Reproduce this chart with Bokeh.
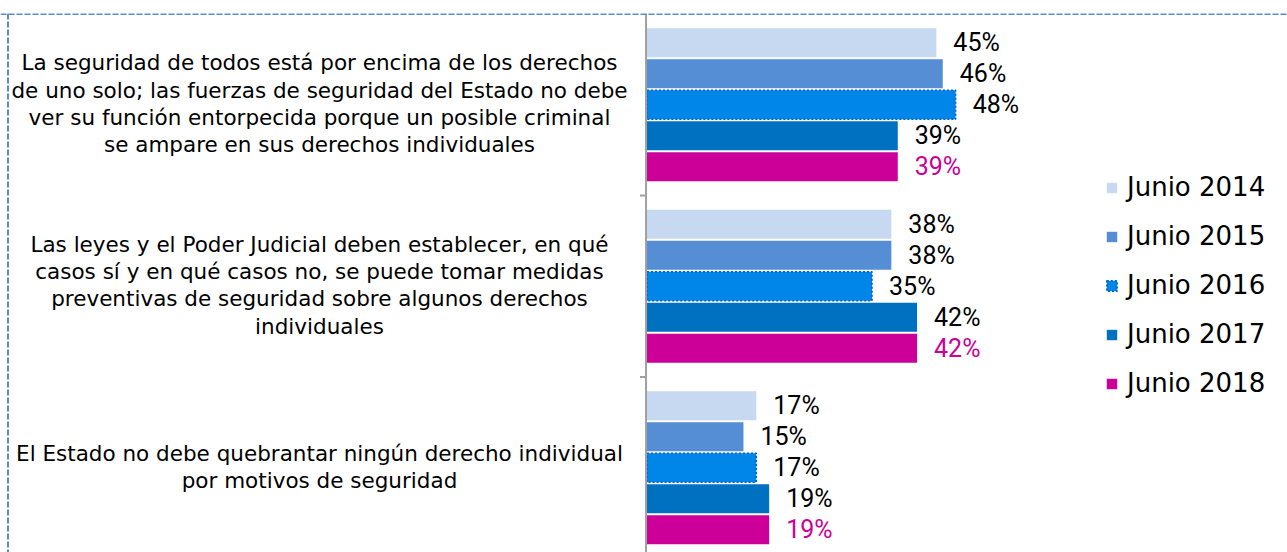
from bokeh.plotting import figure
from bokeh.models import Range1d, Span, Legend, LegendItem
from bokeh.core.properties import value
from bokeh.embed import file_html
from bokeh.resources import INLINE

# ---- data ----
categories = [
    "La seguridad de todos está por encima de los derechos\nde uno solo; las fuerzas de seguridad del Estado no debe\nver su función entorpecida porque un posible criminal\nse ampare en sus derechos individuales",
    "Las leyes y el Poder Judicial deben establecer, en qué\ncasos sí y en qué casos no, se puede tomar medidas\npreventivas de seguridad sobre algunos derechos\nindividuales",
    "El Estado no debe quebrantar ningún derecho individual\npor motivos de seguridad",
]
series = ["Junio 2014", "Junio 2015", "Junio 2016", "Junio 2017", "Junio 2018"]
jun2014 = [45, 38, 17]
jun2015 = [46, 38, 15]
jun2016 = [48, 35, 17]
jun2017 = [39, 42, 19]
jun2018 = [39, 42, 19]
values = [jun2014, jun2015, jun2016, jun2017, jun2018]

colors = ["#C6D9F1", "#558ED5", "#0086E8", "#0070C0", "#CC0099"]
label_colors = ["#000000", "#000000", "#000000", "#000000", "#CC0099"]

# ---- layout ----
W, H = 1287, 552
PX = 6.43                     # pixels per percentage point
X0 = -646.5 / PX
X1 = X0 + W / PX
px_per_unit = W / (X1 - X0)

p = figure(width=W, height=H, output_backend="svg", toolbar_location=None,
           x_range=Range1d(X0, X1), y_range=Range1d(2.967, -0.003),
           x_axis_location=None, y_axis_location=None,
           min_border_left=0, min_border_right=0, min_border_top=13, min_border_bottom=0)
p.outline_line_color = None
p.xgrid.grid_line_color = None
p.ygrid.grid_line_color = None
p.background_fill_color = "white"
p.border_fill_color = "white"

pitch = 0.1708
bar_h = 0.16
n = len(series)
renderers = []
for s, (name, vals) in enumerate(zip(series, values)):
    ys = [g + 0.5 + (s - (n - 1) / 2) * pitch for g in range(len(categories))]
    kw = dict(line_color=None)
    if s == 2:
        kw = dict(line_color="#0062C4", line_dash="2 2", line_width=1.5)
    r = p.hbar(y=ys, right=vals, left=0, height=bar_h, fill_color=colors[s], **kw)
    renderers.append(r)
    p.text(x=vals, y=ys, text=[f"{v}%" for v in vals], x_offset=17,
           text_align="left", text_baseline="middle",
           text_font=value("Roboto"), text_font_size="25px",
           text_color=label_colors[s])

# category labels
label_x = X0 + 319 / px_per_unit
p.text(x=[label_x] * len(categories), y=[g + 0.5 for g in range(len(categories))],
       text=categories, text_align="center", text_baseline="middle",
       text_font=value("DejaVu Sans"), text_font_size="21.5px",
       text_line_height=1.09, text_color="#000000", y_offset=-1)

# axis line and ticks at group boundaries
p.add_layout(Span(location=-0.15, dimension="height", line_color="#A0A0A0", line_width=2))
tick_len = 7 / px_per_unit
bounds = [float(g) for g in range(1, len(categories))]
p.segment(x0=[-tick_len] * len(bounds), x1=[0] * len(bounds), y0=bounds, y1=bounds,
          line_color="#A0A0A0", line_width=2)

# dashed border (top and left)
p.add_layout(Span(location=0, dimension="width", line_color="#5B8BCB",
                  line_dash="6 2", line_width=2))
p.add_layout(Span(location=X0 + 7.5 / px_per_unit, dimension="height", line_color="#5B8BCB",
                  line_dash="6 2", line_width=2))

legend = Legend(items=[LegendItem(label=s, renderers=[r]) for s, r in zip(series, renderers)],
                location=(1105, 154), orientation="vertical",
                glyph_width=13, glyph_height=13, label_height=30,
                label_text_font="DejaVu Sans", label_text_font_size="26px",
                label_text_color="#000000", label_standoff=9, spacing=19,
                padding=0, margin=0, border_line_color=None, background_fill_alpha=0)
p.add_layout(legend)

open("out.html", "w").write(file_html(p, INLINE))
